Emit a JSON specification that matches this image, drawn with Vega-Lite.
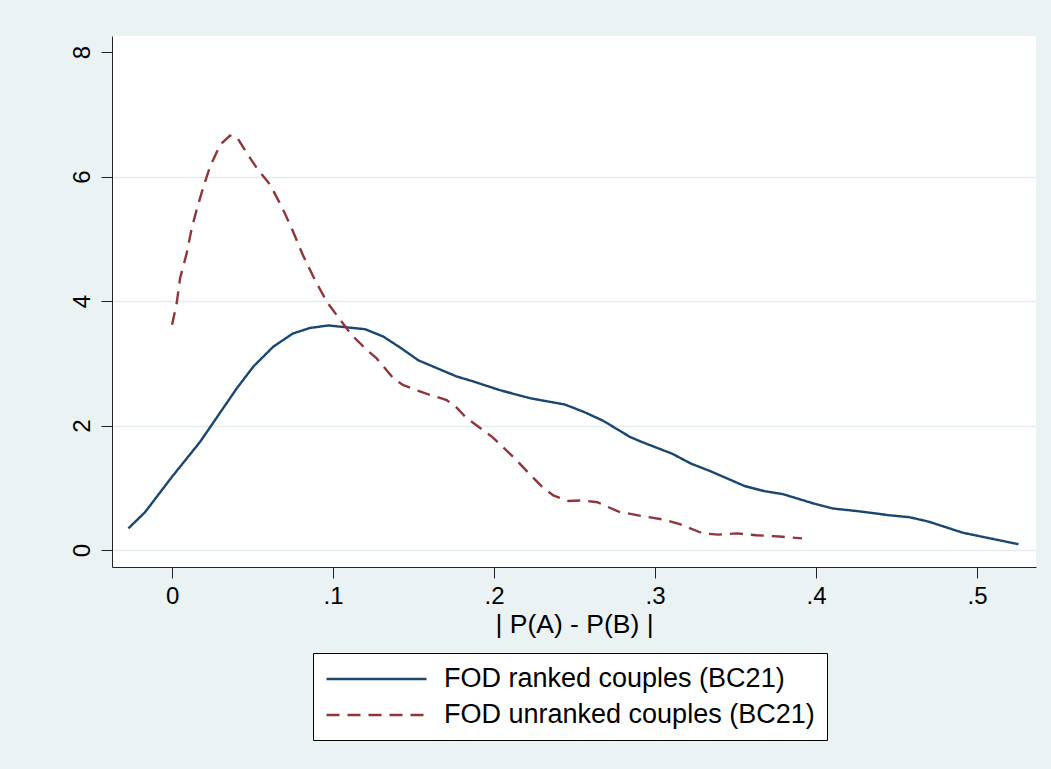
{
  "$schema": "https://vega.github.io/schema/vega-lite/v6.json",
  "width": 924,
  "height": 531,
  "autosize": {"type": "none"},
  "padding": {"left": 112, "top": 36, "right": 15, "bottom": 202},
  "background": "#EAF2F3",
  "config": {
    "view": {"stroke": null, "fill": "white"},
    "font": "Liberation Sans"
  },
  "data": {
    "values": [
      {"x": -0.0271, "y": 0.35, "s": "FOD ranked couples (BC21)"},
      {"x": -0.0168, "y": 0.61, "s": "FOD ranked couples (BC21)"},
      {"x": 0.0, "y": 1.18, "s": "FOD ranked couples (BC21)"},
      {"x": 0.0174, "y": 1.74, "s": "FOD ranked couples (BC21)"},
      {"x": 0.0402, "y": 2.60, "s": "FOD ranked couples (BC21)"},
      {"x": 0.0505, "y": 2.95, "s": "FOD ranked couples (BC21)"},
      {"x": 0.0629, "y": 3.27, "s": "FOD ranked couples (BC21)"},
      {"x": 0.075, "y": 3.48, "s": "FOD ranked couples (BC21)"},
      {"x": 0.0857, "y": 3.57, "s": "FOD ranked couples (BC21)"},
      {"x": 0.0971, "y": 3.61, "s": "FOD ranked couples (BC21)"},
      {"x": 0.1199, "y": 3.55, "s": "FOD ranked couples (BC21)"},
      {"x": 0.1313, "y": 3.43, "s": "FOD ranked couples (BC21)"},
      {"x": 0.142, "y": 3.25, "s": "FOD ranked couples (BC21)"},
      {"x": 0.153, "y": 3.05, "s": "FOD ranked couples (BC21)"},
      {"x": 0.1768, "y": 2.79, "s": "FOD ranked couples (BC21)"},
      {"x": 0.1872, "y": 2.71, "s": "FOD ranked couples (BC21)"},
      {"x": 0.2037, "y": 2.57, "s": "FOD ranked couples (BC21)"},
      {"x": 0.2226, "y": 2.44, "s": "FOD ranked couples (BC21)"},
      {"x": 0.244, "y": 2.34, "s": "FOD ranked couples (BC21)"},
      {"x": 0.2559, "y": 2.22, "s": "FOD ranked couples (BC21)"},
      {"x": 0.2677, "y": 2.08, "s": "FOD ranked couples (BC21)"},
      {"x": 0.2844, "y": 1.82, "s": "FOD ranked couples (BC21)"},
      {"x": 0.2916, "y": 1.74, "s": "FOD ranked couples (BC21)"},
      {"x": 0.3106, "y": 1.55, "s": "FOD ranked couples (BC21)"},
      {"x": 0.3224, "y": 1.39, "s": "FOD ranked couples (BC21)"},
      {"x": 0.3343, "y": 1.27, "s": "FOD ranked couples (BC21)"},
      {"x": 0.3557, "y": 1.03, "s": "FOD ranked couples (BC21)"},
      {"x": 0.3676, "y": 0.95, "s": "FOD ranked couples (BC21)"},
      {"x": 0.3795, "y": 0.90, "s": "FOD ranked couples (BC21)"},
      {"x": 0.3985, "y": 0.75, "s": "FOD ranked couples (BC21)"},
      {"x": 0.4104, "y": 0.67, "s": "FOD ranked couples (BC21)"},
      {"x": 0.4247, "y": 0.63, "s": "FOD ranked couples (BC21)"},
      {"x": 0.446, "y": 0.56, "s": "FOD ranked couples (BC21)"},
      {"x": 0.4579, "y": 0.53, "s": "FOD ranked couples (BC21)"},
      {"x": 0.4698, "y": 0.46, "s": "FOD ranked couples (BC21)"},
      {"x": 0.4912, "y": 0.28, "s": "FOD ranked couples (BC21)"},
      {"x": 0.5257, "y": 0.096, "s": "FOD ranked couples (BC21)"},
      {"x": 0.0, "y": 3.62, "s": "FOD unranked couples (BC21)"},
      {"x": 0.0029, "y": 3.97, "s": "FOD unranked couples (BC21)"},
      {"x": 0.005, "y": 4.37, "s": "FOD unranked couples (BC21)"},
      {"x": 0.0091, "y": 4.77, "s": "FOD unranked couples (BC21)"},
      {"x": 0.0122, "y": 5.17, "s": "FOD unranked couples (BC21)"},
      {"x": 0.0153, "y": 5.47, "s": "FOD unranked couples (BC21)"},
      {"x": 0.0195, "y": 5.84, "s": "FOD unranked couples (BC21)"},
      {"x": 0.0236, "y": 6.16, "s": "FOD unranked couples (BC21)"},
      {"x": 0.0298, "y": 6.51, "s": "FOD unranked couples (BC21)"},
      {"x": 0.036, "y": 6.66, "s": "FOD unranked couples (BC21)"},
      {"x": 0.0402, "y": 6.64, "s": "FOD unranked couples (BC21)"},
      {"x": 0.0464, "y": 6.38, "s": "FOD unranked couples (BC21)"},
      {"x": 0.0526, "y": 6.14, "s": "FOD unranked couples (BC21)"},
      {"x": 0.0609, "y": 5.87, "s": "FOD unranked couples (BC21)"},
      {"x": 0.0681, "y": 5.52, "s": "FOD unranked couples (BC21)"},
      {"x": 0.0743, "y": 5.17, "s": "FOD unranked couples (BC21)"},
      {"x": 0.0816, "y": 4.72, "s": "FOD unranked couples (BC21)"},
      {"x": 0.0888, "y": 4.34, "s": "FOD unranked couples (BC21)"},
      {"x": 0.0961, "y": 3.99, "s": "FOD unranked couples (BC21)"},
      {"x": 0.1085, "y": 3.56, "s": "FOD unranked couples (BC21)"},
      {"x": 0.1126, "y": 3.43, "s": "FOD unranked couples (BC21)"},
      {"x": 0.1209, "y": 3.22, "s": "FOD unranked couples (BC21)"},
      {"x": 0.1271, "y": 3.08, "s": "FOD unranked couples (BC21)"},
      {"x": 0.1375, "y": 2.76, "s": "FOD unranked couples (BC21)"},
      {"x": 0.1437, "y": 2.65, "s": "FOD unranked couples (BC21)"},
      {"x": 0.1561, "y": 2.53, "s": "FOD unranked couples (BC21)"},
      {"x": 0.1706, "y": 2.41, "s": "FOD unranked couples (BC21)"},
      {"x": 0.1768, "y": 2.29, "s": "FOD unranked couples (BC21)"},
      {"x": 0.1822, "y": 2.14, "s": "FOD unranked couples (BC21)"},
      {"x": 0.1988, "y": 1.82, "s": "FOD unranked couples (BC21)"},
      {"x": 0.2130, "y": 1.47, "s": "FOD unranked couples (BC21)"},
      {"x": 0.2226, "y": 1.21, "s": "FOD unranked couples (BC21)"},
      {"x": 0.2297, "y": 1.02, "s": "FOD unranked couples (BC21)"},
      {"x": 0.2368, "y": 0.88, "s": "FOD unranked couples (BC21)"},
      {"x": 0.2463, "y": 0.79, "s": "FOD unranked couples (BC21)"},
      {"x": 0.2547, "y": 0.80, "s": "FOD unranked couples (BC21)"},
      {"x": 0.2642, "y": 0.77, "s": "FOD unranked couples (BC21)"},
      {"x": 0.2773, "y": 0.62, "s": "FOD unranked couples (BC21)"},
      {"x": 0.2916, "y": 0.55, "s": "FOD unranked couples (BC21)"},
      {"x": 0.3058, "y": 0.49, "s": "FOD unranked couples (BC21)"},
      {"x": 0.3153, "y": 0.42, "s": "FOD unranked couples (BC21)"},
      {"x": 0.3296, "y": 0.27, "s": "FOD unranked couples (BC21)"},
      {"x": 0.3391, "y": 0.25, "s": "FOD unranked couples (BC21)"},
      {"x": 0.3509, "y": 0.27, "s": "FOD unranked couples (BC21)"},
      {"x": 0.3628, "y": 0.24, "s": "FOD unranked couples (BC21)"},
      {"x": 0.3771, "y": 0.22, "s": "FOD unranked couples (BC21)"},
      {"x": 0.3913, "y": 0.19, "s": "FOD unranked couples (BC21)"}
    ]
  },
  "mark": {"type": "line", "strokeWidth": 2.4, "clip": true},
  "encoding": {
    "x": {
      "field": "x",
      "type": "quantitative",
      "scale": {"domain": [-0.0373, 0.5366], "nice": false, "zero": false},
      "axis": {
        "title": "| P(A) - P(B) |",
        "titleFontSize": 26.5,
        "titleFontWeight": "normal",
        "titleColor": "black",
        "titlePadding": 3,
        "values": [0, 0.1, 0.2, 0.3, 0.4, 0.5],
        "labelExpr": "datum.value == 0 ? '0' : replace(format(datum.value, '.1f'), '0.', '.')",
        "labelFontSize": 24,
        "labelColor": "black",
        "labelPadding": 6,
        "tickSize": 11,
        "tickColor": "#222",
        "domainColor": "#222",
        "grid": false,
        "labelFlush": false
      }
    },
    "y": {
      "field": "y",
      "type": "quantitative",
      "scale": {"domain": [-0.27, 8.26], "nice": false, "zero": false},
      "axis": {
        "title": null,
        "values": [0, 2, 4, 6, 8],
        "labelAngle": -90,
        "labelAlign": "center",
        "labelBaseline": "bottom",
        "labelFontSize": 24,
        "labelColor": "black",
        "labelPadding": 7,
        "tickSize": 11,
        "tickColor": "#222",
        "domainColor": "#222",
        "grid": true,
        "gridColor": "#E3EDEF",
        "gridWidth": 1.5,
        "gridOpacity": {"condition": {"test": "datum.value === 8", "value": 0}, "value": 1},
        "labelFlush": false
      }
    },
    "color": {
      "field": "s",
      "type": "nominal",
      "scale": {"domain": ["FOD ranked couples (BC21)", "FOD unranked couples (BC21)"], "range": ["#1A476F", "#90353B"]},
      "legend": {
        "title": null,
        "orient": "none",
        "legendX": 201,
        "legendY": 617,
        "fillColor": "white",
        "strokeColor": "black",
        "padding": 12,
        "symbolType": "M-1,0H7",
        "symbolSize": 625,
        "symbolStrokeWidth": 2.4,
        "labelFontSize": 27,
        "labelColor": "black",
        "labelOffset": 91,
        "rowPadding": 9,
        "labelLimit": 600
      }
    },
    "strokeDash": {
      "field": "s",
      "type": "nominal",
      "scale": {"domain": ["FOD ranked couples (BC21)", "FOD unranked couples (BC21)"], "range": [[1, 0], [13, 8]]},
      "legend": {
        "title": null,
        "orient": "none",
        "legendX": 201,
        "legendY": 617,
        "fillColor": "white",
        "strokeColor": "black",
        "padding": 12,
        "symbolType": "M-1,0H7",
        "symbolSize": 625,
        "symbolStrokeWidth": 2.4,
        "labelFontSize": 27,
        "labelColor": "black",
        "labelOffset": 91,
        "rowPadding": 9,
        "labelLimit": 600
      }
    }
  }
}
